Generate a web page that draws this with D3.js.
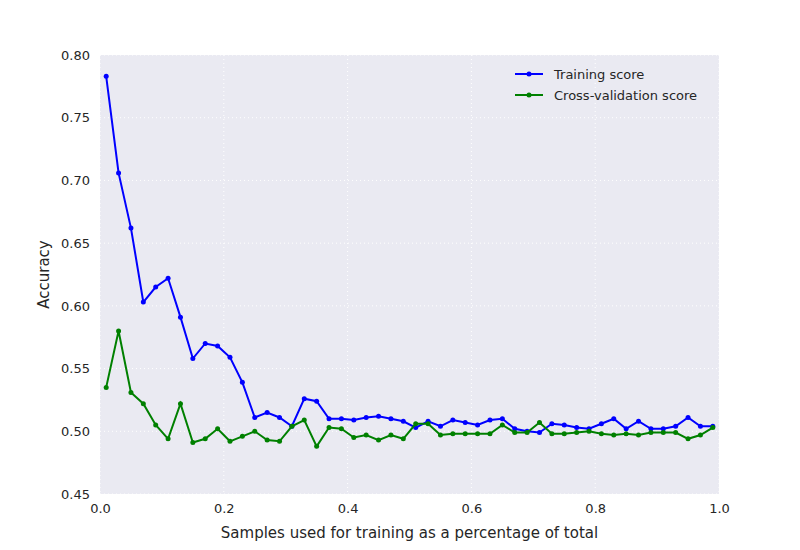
<!DOCTYPE html>
<html><head><meta charset="utf-8">
<script src="https://cdn.jsdelivr.net/npm/d3@7"></script>
<style>body{margin:0;background:#fff;font-family:"DejaVu Sans",sans-serif}</style>
</head><body><div id="chart"></div>
<script>
const fractions = d3.range(50).map(i => +(0.01 + i * 0.02).toFixed(2));
const trainScores = [0.783,0.706,0.662,0.603,0.615,0.622,0.591,0.558,0.570,0.568,0.559,0.539,0.511,0.515,0.511,0.504,0.526,0.524,0.510,0.510,0.509,0.511,0.512,0.510,0.508,0.503,0.508,0.504,0.509,0.507,0.505,0.509,0.510,0.502,0.500,0.499,0.506,0.505,0.503,0.502,0.506,0.510,0.502,0.508,0.502,0.502,0.504,0.511,0.504,0.504];
const cvScores = [0.535,0.580,0.531,0.522,0.505,0.494,0.522,0.491,0.494,0.502,0.492,0.496,0.500,0.493,0.492,0.504,0.509,0.488,0.503,0.502,0.495,0.497,0.493,0.497,0.494,0.506,0.506,0.497,0.498,0.498,0.498,0.498,0.505,0.499,0.499,0.507,0.498,0.498,0.499,0.500,0.498,0.497,0.498,0.497,0.499,0.499,0.499,0.494,0.497,0.503];
const xTicks = [0, 0.2, 0.4, 0.6, 0.8, 1.0];
const yTicks = [0.45,0.50,0.55,0.60,0.65,0.70,0.75,0.80];
const series = [
	{ name: "Training score", color: "#0000ff", values: trainScores },
	{ name: "Cross-validation score", color: "#008000", values: cvScores }
];

const W = 800, H = 550, L = 100, R = 719, T = 55, B = 494;
const svg = d3.select("#chart").append("svg").attr("width", W).attr("height", H);
const x = d3.scaleLinear().domain([0, 1]).range([L, R]);
const y = d3.scaleLinear().domain([0.45, 0.80]).range([B, T]);

svg.append("rect").attr("x", L).attr("y", T).attr("width", R - L).attr("height", B - T).attr("fill", "#eaeaf2");

const grid = svg.append("g").attr("stroke", "#fff").attr("stroke-dasharray", "1,3");
grid.selectAll(".gx").data(xTicks).join("line").attr("x1", d => x(d)).attr("x2", d => x(d)).attr("y1", T).attr("y2", B);
grid.selectAll(".gy").data(yTicks).join("line").attr("y1", d => y(d)).attr("y2", d => y(d)).attr("x1", L).attr("x2", R);

const xa = svg.append("g").attr("transform", `translate(0,${B})`)
	.call(d3.axisBottom(x).tickValues(xTicks).tickFormat(d3.format(".1f")).tickSize(0).tickPadding(10));
const ya = svg.append("g").attr("transform", `translate(${L},0)`)
	.call(d3.axisLeft(y).tickValues(yTicks).tickFormat(d3.format(".2f")).tickSize(0).tickPadding(10));
[xa, ya].forEach(a => {
	a.select(".domain").remove();
	a.selectAll("text").attr("font-size", 13).attr("fill", "#262626").attr("font-family", "DejaVu Sans");
});

svg.append("text").attr("x", (L + R) / 2).attr("y", 538).attr("text-anchor", "middle")
	.attr("font-size", 15).attr("fill", "#262626").text("Samples used for training as a percentage of total");
svg.append("text").attr("transform", `translate(49,${(T + B) / 2}) rotate(-90)`).attr("text-anchor", "middle")
	.attr("font-size", 15).attr("fill", "#262626").text("Accuracy");

const line = d3.line().x((d, i) => x(fractions[i])).y(d => y(d));
series.forEach(s => {
	const g = svg.append("g");
	g.append("path").attr("d", line(s.values)).attr("fill", "none").attr("stroke", s.color).attr("stroke-width", 2);
	g.selectAll("circle").data(s.values).join("circle")
		.attr("cx", (d, i) => x(fractions[i])).attr("cy", d => y(d)).attr("r", 2.5).attr("fill", s.color);
});

const lg = svg.append("g").attr("transform", "translate(515,74)");
series.forEach((s, i) => {
	const r = lg.append("g").attr("transform", `translate(0,${i * 21})`);
	r.append("line").attr("x1", 0).attr("x2", 28).attr("stroke", s.color).attr("stroke-width", 2);
	r.append("circle").attr("cx", 14).attr("r", 2.5).attr("fill", s.color);
	r.append("text").attr("x", 39).attr("dy", "0.35em").attr("font-size", 13).attr("fill", "#262626").text(s.name);
});
</script></body></html>
